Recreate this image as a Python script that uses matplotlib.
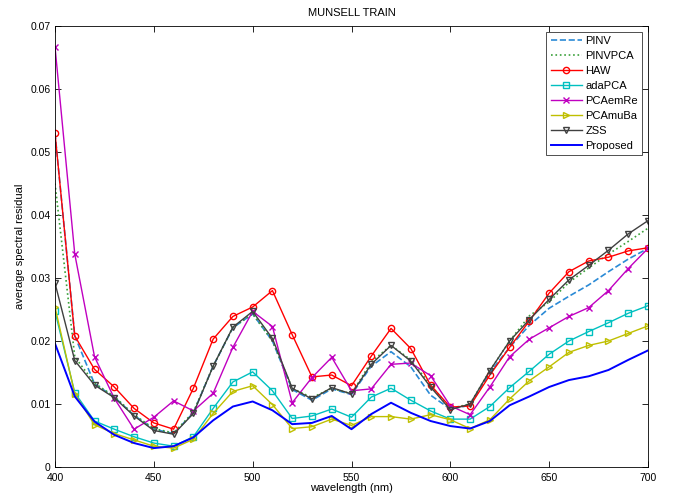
import matplotlib
matplotlib.use('Agg')
from matplotlib import pyplot as plt


wavelength = list(range(400, 701, 10))

pinv = [0.0530, 0.0208, 0.0132, 0.0111, 0.0082, 0.0060, 0.0053, 0.0086, 0.0160, 0.0221,
        0.0243, 0.0200, 0.0123, 0.0106, 0.0124, 0.0115, 0.0160, 0.0183, 0.0159, 0.0114,
        0.0092, 0.0098, 0.0150, 0.0190, 0.0225, 0.0252, 0.0271, 0.0289, 0.0310, 0.0330,
        0.0347]
pinvpca = [0.0450, 0.0175, 0.0133, 0.0112, 0.0083, 0.0061, 0.0054, 0.0087, 0.0160, 0.0222,
           0.0243, 0.0200, 0.0125, 0.0110, 0.0125, 0.0116, 0.0167, 0.0193, 0.0170, 0.0130,
           0.0093, 0.0100, 0.0153, 0.0200, 0.0240, 0.0262, 0.0293, 0.0316, 0.0338, 0.0358,
           0.0379]
haw = [0.0530, 0.0208, 0.0155, 0.0127, 0.0093, 0.0070, 0.0060, 0.0125, 0.0203, 0.0239,
       0.0254, 0.0280, 0.0210, 0.0143, 0.0146, 0.0129, 0.0176, 0.0220, 0.0188, 0.0130,
       0.0095, 0.0097, 0.0146, 0.0190, 0.0232, 0.0276, 0.0310, 0.0327, 0.0333, 0.0343,
       0.0348]
adapca = [0.0247, 0.0118, 0.0073, 0.0060, 0.0048, 0.0038, 0.0033, 0.0048, 0.0093, 0.0135,
          0.0151, 0.0121, 0.0077, 0.0081, 0.0092, 0.0079, 0.0111, 0.0125, 0.0106, 0.0089,
          0.0076, 0.0076, 0.0096, 0.0126, 0.0152, 0.0179, 0.0200, 0.0215, 0.0229, 0.0244,
          0.0256]
pcaemre = [0.0667, 0.0338, 0.0175, 0.0109, 0.0060, 0.0079, 0.0105, 0.0089, 0.0117, 0.0190,
           0.0247, 0.0223, 0.0102, 0.0142, 0.0174, 0.0121, 0.0124, 0.0163, 0.0165, 0.0145,
           0.0097, 0.0083, 0.0127, 0.0175, 0.0203, 0.0221, 0.0239, 0.0253, 0.0280, 0.0315,
           0.0347]
pcamuba = [0.0254, 0.0116, 0.0067, 0.0053, 0.0043, 0.0033, 0.0030, 0.0044, 0.0085, 0.0120,
           0.0129, 0.0099, 0.0061, 0.0064, 0.0076, 0.0066, 0.0080, 0.0080, 0.0076, 0.0083,
           0.0075, 0.0061, 0.0075, 0.0108, 0.0137, 0.0159, 0.0182, 0.0193, 0.0200, 0.0212,
           0.0224]
zss = [0.0292, 0.0169, 0.0130, 0.0110, 0.0081, 0.0058, 0.0052, 0.0085, 0.0160, 0.0222,
       0.0247, 0.0204, 0.0125, 0.0108, 0.0126, 0.0116, 0.0163, 0.0193, 0.0168, 0.0127,
       0.0091, 0.0100, 0.0153, 0.0200, 0.0234, 0.0266, 0.0297, 0.0320, 0.0344, 0.0370,
       0.0391]
proposed = [0.0196, 0.0112, 0.0072, 0.0051, 0.0038, 0.0030, 0.0033, 0.0047, 0.0074, 0.0096,
            0.0104, 0.0090, 0.0068, 0.0070, 0.0081, 0.0060, 0.0084, 0.0102, 0.0086, 0.0073,
            0.0065, 0.0061, 0.0073, 0.0098, 0.0112, 0.0127, 0.0138, 0.0144, 0.0154, 0.0170,
            0.0185]

x_ticks = [400, 450, 500, 550, 600, 650, 700]
y_ticks = [0, 0.01, 0.02, 0.03, 0.04, 0.05, 0.06, 0.07]
y_tick_labels = ['0', '0.01', '0.02', '0.03', '0.04', '0.05', '0.06', '0.07']


def main():
    plt.rcParams['font.family'] = ['Liberation Sans', 'DejaVu Sans']
    plt.rcParams['font.size'] = 7.5

    fig = plt.figure(figsize=(6.77, 4.97), dpi=100)
    ax = fig.add_axes([55 / 677, 30 / 497, 593 / 677, 441 / 497])

    mk = dict(markersize=4.5, markerfacecolor='none', linewidth=1.0)
    ax.plot(wavelength, pinv, '--', color='#2a8ad6', linewidth=1.2, label='PINV')
    ax.plot(wavelength, pinvpca, ':', color='#3aa03a', linewidth=1.2, label='PINVPCA')
    ax.plot(wavelength, haw, '-o', color='#ff0000', markeredgecolor='#ff0000', label='HAW', **mk)
    ax.plot(wavelength, adapca, '-s', color='#00c0c0', markeredgecolor='#00c0c0', label='adaPCA', **mk)
    ax.plot(wavelength, pcaemre, '-x', color='#c000c0', markeredgecolor='#c000c0', label='PCAemRe', **mk)
    ax.plot(wavelength, pcamuba, '->', color='#bfbf00', markeredgecolor='#bfbf00', label='PCAmuBa', **mk)
    ax.plot(wavelength, zss, '-v', color='#404040', markeredgecolor='#404040', label='ZSS', **mk)
    ax.plot(wavelength, proposed, '-', color='#0000ff', linewidth=1.4, label='Proposed')

    ax.set_xlim(400, 700)
    ax.set_ylim(0, 0.07)
    ax.set_xticks(x_ticks)
    ax.set_yticks(y_ticks)
    ax.set_yticklabels(y_tick_labels)
    ax.tick_params(direction='in', top=True, right=True, length=4, width=0.6)
    ax.tick_params(axis='x', pad=4)
    ax.tick_params(axis='y', pad=3)
    for spine in ax.spines.values():
        spine.set_linewidth(0.6)

    ax.set_title('MUNSELL TRAIN', fontsize=8, pad=7)
    ax.set_xlabel('wavelength (nm)', fontsize=8, labelpad=0)
    ax.set_ylabel('average spectral residual', fontsize=8, labelpad=4)

    leg = ax.legend(loc='upper right', fancybox=False, edgecolor='#333333', framealpha=1,
                    borderaxespad=0.5, handlelength=2.8, handletextpad=0.3,
                    labelspacing=0.45, borderpad=0.4, fontsize=8)
    leg.get_frame().set_linewidth(0.6)

    # save the figure next to the script
    fig.savefig('out.png', dpi=100)
    plt.close(fig)


if __name__ == '__main__':
    main()
